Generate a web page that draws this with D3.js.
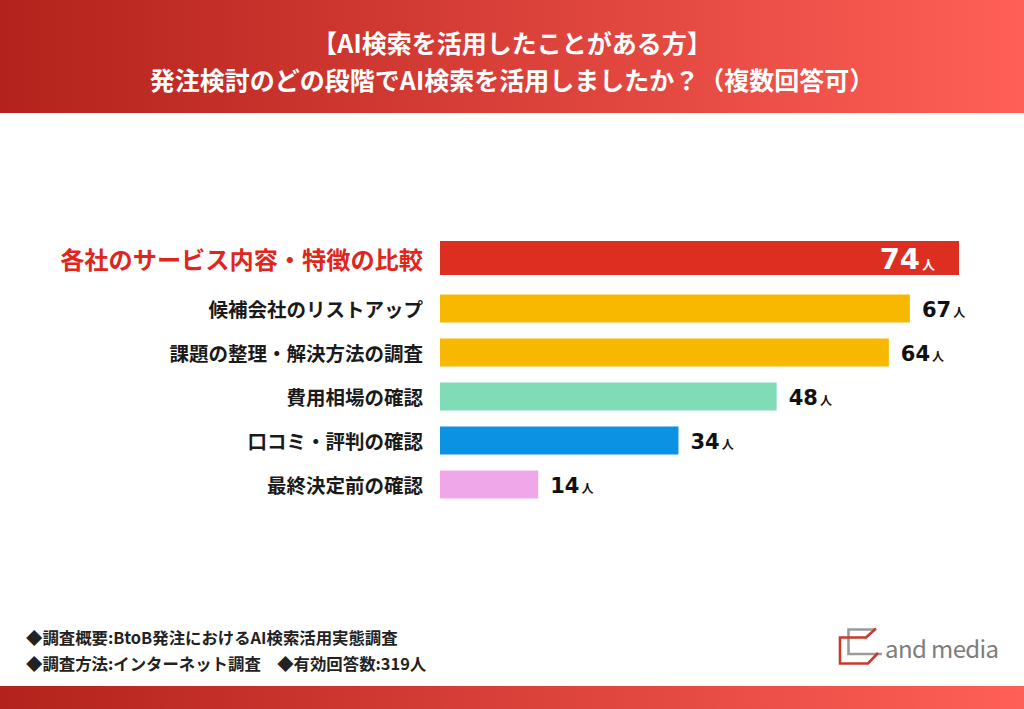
<!DOCTYPE html>
<html><head><meta charset="utf-8">
<script src="https://cdn.jsdelivr.net/npm/d3@7"></script>
<style>
html,body{margin:0;padding:0;background:#fff;}
svg{display:block;}
text{font-family:"Noto Sans CJK JP","Noto Sans",sans-serif;}
</style></head>
<body>
<svg id="chart" width="1024" height="709"></svg>
<script>
const titleLines = ["【AI検索を活用したことがある方】", "発注検討のどの段階でAI検索を活用しましたか？（複数回答可）"];
const categories = ["各社のサービス内容・特徴の比較","候補会社のリストアップ","課題の整理・解決方法の調査","費用相場の確認","口コミ・評判の確認","最終決定前の確認"];
const values = [74, 67, 64, 48, 34, 14];
const unit = "人";
const barColors = ["#dc2f22","#f9b800","#f9b800","#7fdcb6","#0b92e3","#f0a7e9"];
const footnotes = ["◆調査概要:BtoB発注におけるAI検索活用実態調査", "◆調査方法:インターネット調査　◆有効回答数:319人"];
const brand = "and media";

const svg = d3.select("#chart");
const W = 1024, H = 709;

const defs = svg.append("defs");
const grad = defs.append("linearGradient").attr("id","hdr").attr("x1","0").attr("x2","1").attr("y1","0").attr("y2","0");
grad.append("stop").attr("offset","0%").attr("stop-color","#b3221c");
grad.append("stop").attr("offset","100%").attr("stop-color","#ff5f56");

// header
svg.append("rect").attr("x",0).attr("y",0).attr("width",W).attr("height",113).attr("fill","url(#hdr)");
svg.append("rect").attr("x",0).attr("y",686).attr("width",W).attr("height",23).attr("fill","url(#hdr)");

svg.selectAll("text.title").data(titleLines).join("text")
  .attr("class","title")
  .attr("x",512).attr("y",(d,i)=>42 + i*37)
  .attr("text-anchor","middle").attr("dominant-baseline","central")
  .attr("fill","#fff").attr("font-weight",700).attr("font-size",25)
  .text(d=>d);

// scales
const x = d3.scaleLinear().domain([0, 74]).range([440, 959]);
const y = d3.scaleBand().domain(categories).range([242.5, 506.5]).paddingInner(16/44).paddingOuter(8/44);

const isTop = (d,i)=> i===0;
const barY = (d,i)=> isTop(d,i) ? y(d) - 6.5 - 3 : y(d);
const barH = (d,i)=> isTop(d,i) ? y.bandwidth() + 6 : y.bandwidth();
const cy = (d,i)=> barY(d,i) + barH(d,i)/2;

const g = svg.append("g");
g.selectAll("rect.bar").data(categories).join("rect")
  .attr("class","bar")
  .attr("x",x(0))
  .attr("y",(d,i)=>barY(d,i))
  .attr("width",(d,i)=>x(values[i]) - x(0))
  .attr("height",(d,i)=>barH(d,i))
  .attr("fill",(d,i)=>barColors[i]);

g.selectAll("text.cat").data(categories).join("text")
  .attr("class","cat")
  .attr("x",423)
  .attr("y",(d,i)=>cy(d,i))
  .attr("text-anchor","end").attr("dominant-baseline","central")
  .attr("font-weight",700)
  .attr("font-size",(d,i)=>isTop(d,i)?24.2:19.5)
  .attr("fill",(d,i)=>isTop(d,i)?"#e0261c":"#1a1a1a")
  .text(d=>d);

// value labels
categories.forEach((c,i)=>{
  const top = i===0;
  const t = g.append("text")
    .attr("font-weight",700)
    .attr("fill", top ? "#fff" : "#111")
    .attr("y", cy(c,i) + (top ? 11 : 8.5));
  if (top) {
    t.attr("x", x(values[i]) - 24).attr("text-anchor","end");
  } else {
    t.attr("x", x(values[i]) + 12).attr("text-anchor","start");
  }
  t.append("tspan").attr("font-family","'DejaVu Sans',sans-serif").attr("font-size", top?29:21).text(values[i]);
  t.append("tspan").attr("font-size", top?13:12).attr("dx",2).text(unit);
});

// footnotes
svg.selectAll("text.note").data(footnotes).join("text")
  .attr("class","note")
  .attr("x",26).attr("y",(d,i)=>637 + i*26)
  .attr("dominant-baseline","central")
  .attr("font-weight",700).attr("font-size",16.4).attr("fill","#222")
  .text(d=>d);

// logo
const logo = svg.append("g");
logo.append("path").attr("d","M875,629.5 L848.5,629.5 L848.5,654 L882,654")
  .attr("fill","none").attr("stroke","#9a9a9a").attr("stroke-width",2.6);
logo.append("path").attr("d","M876,628.5 L866,637.5 L840,637.5 L840,663.5 L868,663.5 L878,653")
  .attr("fill","none").attr("stroke","#c93a2e").attr("stroke-width",2.6);
logo.append("text").attr("x",885).attr("y",647).attr("dominant-baseline","central")
  .attr("font-family","'Open Sans','Noto Sans',sans-serif").attr("font-size",24).attr("fill","#7d7d7d")
  .attr("letter-spacing","-0.6")
  .text(brand);
</script>
</body></html>
